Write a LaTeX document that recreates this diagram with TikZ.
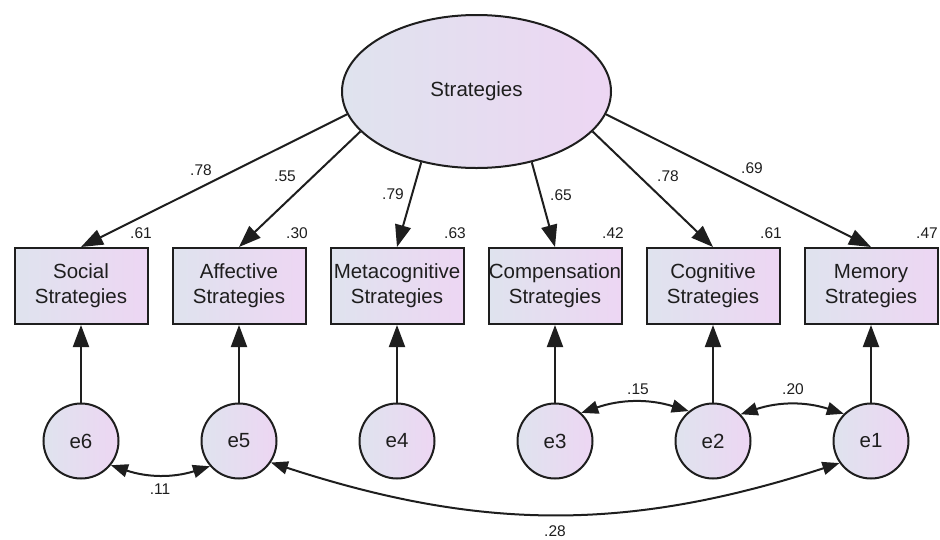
\documentclass[tikz,border=0pt]{standalone}
\usepackage{fontspec}
\setmainfont{Liberation Sans}
\usetikzlibrary{arrows.meta,shapes.geometric}
\definecolor{lblue}{HTML}{DFE3EE}
\definecolor{lpink}{HTML}{EDD6F3}
\definecolor{ink}{HTML}{1E1E1E}
\begin{document}
\begin{tikzpicture}[x=1pt,y=-1pt,
  every node/.style={text=ink},
  latent/.style={ellipse, draw=ink, line width=2pt, minimum width=269pt,
    minimum height=153pt, inner sep=0pt, left color=lblue, right color=lpink,
    font=\fontsize{20.5}{25}\selectfont},
  obsbox/.style={rectangle, draw=ink, line width=2pt, minimum width=133pt,
    minimum height=76pt, inner sep=0pt, align=center, left color=lblue,
    right color=lpink, font=\fontsize{20.5}{25}\selectfont},
  errc/.style={circle, draw=ink, line width=2pt, minimum size=75pt,
    inner sep=0pt, left color=lblue, right color=lpink,
    font=\fontsize{20.5}{25}\selectfont},
  load/.style={draw=ink, line width=2pt, -{Triangle[length=22pt,width=16pt]}},
  cov/.style={draw=ink, line width=2pt,
    {Triangle[length=17pt,width=13pt]}-{Triangle[length=17pt,width=13pt]}},
  num/.style={font=\fontsize{15.5}{18}\selectfont, inner sep=0pt}
]
\useasboundingbox (0,0) rectangle (940,539);

% latent factor
\node[latent] (S) at (476.5,91.5) {Strategies};

% observed strategy scales
\node[obsbox] (b1) at (81,286)  {Social\\Strategies};
\node[obsbox] (b2) at (239,286) {Affective\\Strategies};
\node[obsbox] (b3) at (397,286) {Metacognitive\\Strategies};
\node[obsbox] (b4) at (555,286) {Compensation\\Strategies};
\node[obsbox] (b5) at (713,286) {Cognitive\\Strategies};
\node[obsbox] (b6) at (871,286) {Memory\\Strategies};

% error terms
\node[errc] (e6) at (81,441)  {e6};
\node[errc] (e5) at (239,441) {e5};
\node[errc] (e4) at (397,441) {e4};
\node[errc] (e3) at (555,441) {e3};
\node[errc] (e2) at (713,441) {e2};
\node[errc] (e1) at (871,441) {e1};

% factor loadings
\draw[load] (S.190) -- (b1.north);
\draw[load] (S.199) -- (b2.north);
\draw[load] (S.232) -- (b3.north);
\draw[load] (S.308) -- (b4.north);
\draw[load] (S.341) -- (b5.north);
\draw[load] (S.350) -- (b6.north);

\node[num] (l1) at (201,170) {.78};
\node[num] (l2) at (285,176) {.55};
\node[num] (l3) at (393,194) {.79};
\node[num] (l4) at (561,195) {.65};
\node[num] (l5) at (668,176) {.78};
\node[num] (l6) at (752,168) {.69};

% squared multiple correlations
\node[num] (r1) at (141,233) {.61};
\node[num] (r2) at (297,233) {.30};
\node[num] (r3) at (455,233) {.63};
\node[num] (r4) at (613,233) {.42};
\node[num] (r5) at (771,233) {.61};
\node[num] (r6) at (927,233) {.47};

% error paths
\draw[load] (e6) -- (b1);
\draw[load] (e5) -- (b2);
\draw[load] (e4) -- (b3);
\draw[load] (e3) -- (b4);
\draw[load] (e2) -- (b5);
\draw[load] (e1) -- (b6);

% error covariances
\draw[cov] (e6.-39) to[bend right=18] (e5.-139);
\draw[cov] (e3.47) to[bend left=18] (e2.129);
\draw[cov] (e2.44) to[bend left=18] (e1.135);
\draw[cov] (e5.-34) to[bend right=18] (e1.-145);

\node[num] (c1) at (160,489) {.11};
\node[num] (c2) at (638,389) {.15};
\node[num] (c3) at (793,389) {.20};
\node[num] (c4) at (555,531) {.28};
\end{tikzpicture}
\end{document}
